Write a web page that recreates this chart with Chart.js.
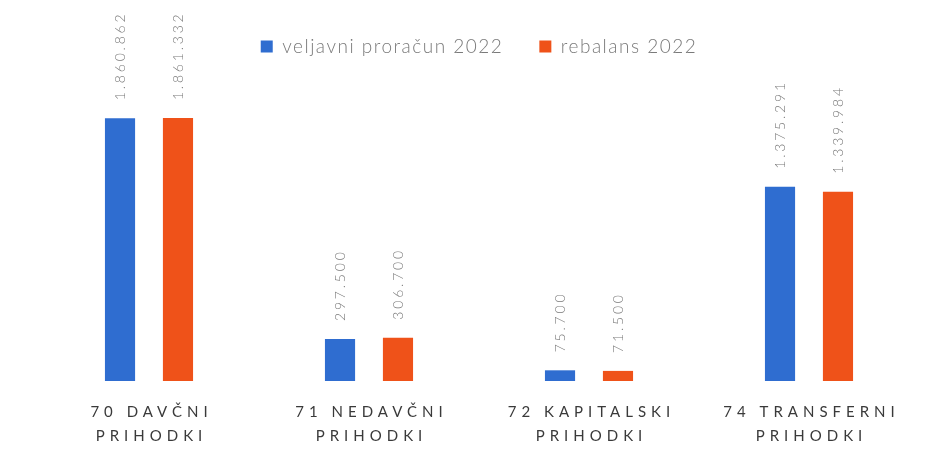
<!DOCTYPE html>
<html>
<head>
<meta charset="utf-8">
<script src="https://cdn.jsdelivr.net/npm/chart.js@4"></script>
<style>
  html, body { margin: 0; padding: 0; background: #fff; }
  #wrap { width: 943px; height: 459px; }
</style>
</head>
<body>
<div id="wrap"><canvas id="myChart"></canvas></div>
<script>
// Data
const categories = [['70 DAVČNI', 'PRIHODKI'], ['71 NEDAVČNI', 'PRIHODKI'], ['72 KAPITALSKI', 'PRIHODKI'], ['74 TRANSFERNI', 'PRIHODKI']];
const seriesNames = ['veljavni proračun 2022', 'rebalans 2022'];
const veljavni = [1860862, 297500, 75700, 1375291];
const rebalans = [1861332, 306700, 71500, 1339984];

const blue = '#2f6dd0';
const orange = '#ef5219';
const textGray = '#7a7a7a';

// format numbers like 1.860.862
function fmt(v) {
  return v.toString().replace(/\B(?=(\d{3})+(?!\d))/g, '.');
}

// legend text is letter-spaced in the original, so give the canvas a spacing before layout and draw
const spacingPlugin = {
  id: 'spacingPlugin',
  beforeLayout(chart) { chart.ctx.letterSpacing = '1.5px'; },
  beforeDraw(chart) { chart.ctx.letterSpacing = '1.5px'; }
};

// Plugin: rotated value labels above bars + spaced category labels below
const labelsPlugin = {
  id: 'labelsPlugin',
  afterDatasetsDraw(chart) {
    const ctx = chart.ctx;
    ctx.save();
    ctx.fillStyle = textGray;
    ctx.font = '300 14px Lato';
    ctx.letterSpacing = '2.8px';
    ctx.textAlign = 'left';
    ctx.textBaseline = 'middle';
    chart.data.datasets.forEach((ds, i) => {
      chart.getDatasetMeta(i).data.forEach((bar, j) => {
        ctx.save();
        ctx.translate(bar.x, bar.y - 18);
        ctx.rotate(-Math.PI / 2);
        ctx.fillText(fmt(ds.data[j]), 0, 0);
        ctx.restore();
      });
    });

    // category labels
    const xScale = chart.scales.x;
    ctx.font = '15px Lato';
    ctx.fillStyle = '#3a3a3a';
    ctx.letterSpacing = '5px';
    ctx.textAlign = 'center';
    categories.forEach((lines, j) => {
      const x = xScale.getPixelForValue(j);
      lines.forEach((line, k) => {
        ctx.fillText(line, x + 2.5, chart.chartArea.bottom + 31 + k * 24);
      });
    });
    ctx.restore();
  }
};

const ctx = document.getElementById('myChart').getContext('2d');
let myChart = new Chart(ctx, {
  type: 'bar',
  data: {
    labels: categories,
    datasets: [
      { label: seriesNames[0], data: veljavni, backgroundColor: blue },
      { label: seriesNames[1], data: rebalans, backgroundColor: orange }
    ]
  },
  options: {
    responsive: true,
    maintainAspectRatio: false,
    animation: false,
    categoryPercentage: 0.527,
    barPercentage: 0.52,
    layout: { padding: { top: 1, bottom: 78, left: 39, right: 24 } },
    scales: {
      x: { display: false },
      y: { display: false, min: 0, max: 2230000 }
    },
    plugins: {
      tooltip: { enabled: false },
      legend: {
        position: 'top',
        labels: {
          boxWidth: 12,
          boxHeight: 12,
          padding: 36,
          color: textGray,
          font: { family: 'Lato', size: 19, weight: '300' }
        }
      }
    }
  },
  plugins: [spacingPlugin, labelsPlugin]
});
</script>
</body>
</html>
